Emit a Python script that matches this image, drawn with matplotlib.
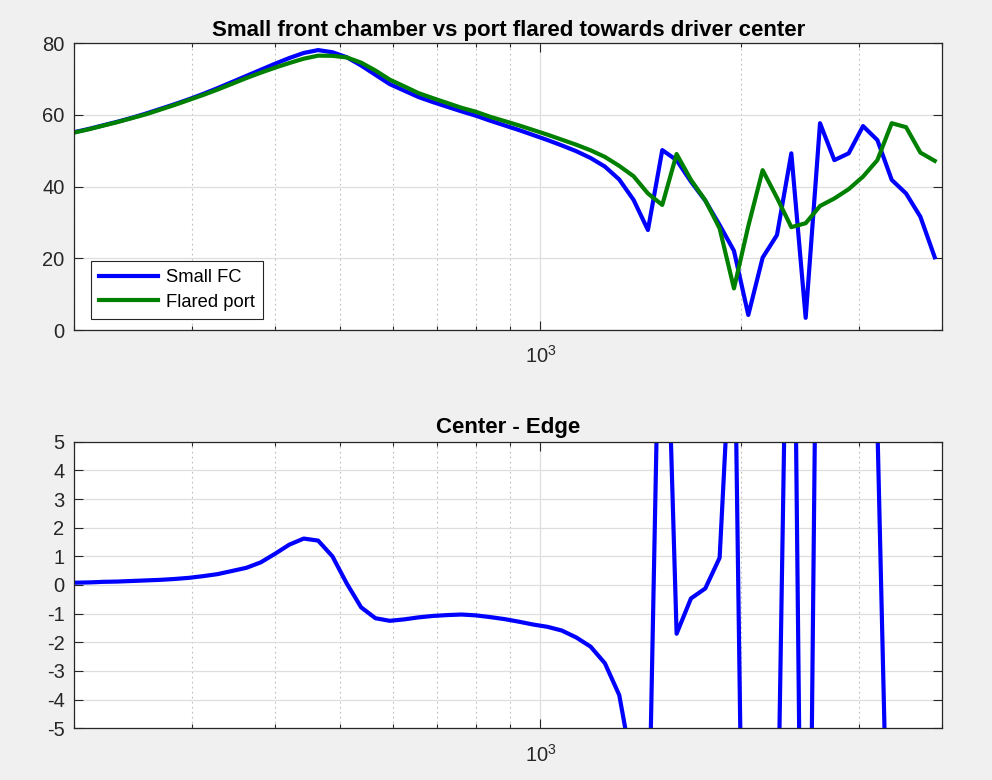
import matplotlib
matplotlib.use("Agg")
import matplotlib.pyplot as plt
from matplotlib.ticker import LogLocator, LogFormatterSciNotation, NullFormatter, MultipleLocator

plt.rcParams['font.family'] = ['Liberation Sans', 'DejaVu Sans']
plt.rcParams['mathtext.fontset'] = 'custom'
plt.rcParams['mathtext.rm'] = 'Liberation Sans'
plt.rcParams['axes.unicode_minus'] = False

# frequency points (Hz)
freq = [200.0, 210.2, 220.8, 232.0, 243.8, 256.2, 269.2, 282.8, 297.2, 312.3,
        328.1, 344.8, 362.3, 380.7, 400.0, 420.3, 441.6, 464.1, 487.6, 512.4,
        538.4, 565.7, 594.4, 624.6, 656.3, 689.6, 724.6, 761.4, 800.0, 840.6,
        883.3, 928.1, 975.2, 1024.7, 1076.7, 1131.4, 1188.8, 1249.1, 1312.5, 1379.2,
        1449.2, 1522.7, 1600.0, 1681.2, 1766.5, 1856.2, 1950.4, 2049.4, 2153.4, 2262.7,
        2377.6, 2498.3, 2625.1, 2758.3, 2898.3, 3045.4, 3200.0, 3362.4, 3533.1, 3712.4,
        3900.8]

small_fc = [55.2, 56.1, 57.1, 58.1, 59.2, 60.4, 61.7, 63.0, 64.4, 65.9,
            67.5, 69.2, 70.9, 72.6, 74.3, 75.9, 77.3, 78.1, 77.5, 76.1,
            73.8, 71.2, 68.6, 66.8, 65.0, 63.6, 62.3, 61.0, 59.8, 58.4,
            57.1, 55.8, 54.4, 53.0, 51.5, 49.9, 48.0, 45.6, 42.0, 36.3,
            27.9, 50.2, 47.4, 41.4, 36.1, 29.3, 22.1, 4.2, 20.2, 26.5,
            49.3, 3.4, 57.7, 47.4, 49.3, 56.9, 53.0, 41.9, 38.1, 31.6,
            20.3]

flared = [55.1, 56.0, 57.0, 58.0, 59.1, 60.2, 61.5, 62.8, 64.2, 65.6,
          67.1, 68.7, 70.3, 71.8, 73.2, 74.5, 75.7, 76.55, 76.5, 76.05,
          74.6, 72.4, 69.85, 68.0, 66.1, 64.7, 63.35, 62.0, 60.9, 59.5,
          58.3, 57.1, 55.8, 54.5, 53.1, 51.7, 50.15, 48.3, 45.8, 42.9,
          38.1, 34.9, 49.1, 41.9, 36.2, 28.35, 11.6, 29.0, 44.6, 36.9,
          28.7, 29.8, 34.6, 36.7, 39.3, 42.8, 47.4, 57.7, 56.6, 49.5,
          47.2]

center_edge = [0.08, 0.09, 0.11, 0.12, 0.14, 0.16, 0.18, 0.21, 0.25, 0.31,
               0.38, 0.49, 0.60, 0.79, 1.09, 1.41, 1.62, 1.55, 1.00, 0.05,
               -0.78, -1.16, -1.25, -1.20, -1.13, -1.08, -1.05, -1.03, -1.06, -1.12,
               -1.19, -1.28, -1.38, -1.46, -1.59, -1.83, -2.15, -2.73, -3.84, -6.6,
               -10.2, 15.3, -1.7, -0.47, -0.12, 0.95, 10.7, -25.0, -24.1, -10.4,
               20.6, -26.4, 23.1, 10.7, 10.0, 14.1, 5.6, -15.8, -18.5, -17.9,
               -26.9]

TXT = '#262626'

fig = plt.figure(figsize=(9.92, 7.80), dpi=100, facecolor='#f0f0f0')
ax1 = fig.add_axes([0.0749, 0.5769, 0.8747, 0.3676])
ax2 = fig.add_axes([0.0749, 0.0663, 0.8747, 0.3674])


def matlab_style(ax):
    ax.set_xscale('log')
    ax.set_xlim(200, 4000)
    ax.set_facecolor('white')
    ax.xaxis.set_major_locator(LogLocator(base=10))
    ax.xaxis.set_major_formatter(LogFormatterSciNotation())
    ax.xaxis.set_minor_locator(LogLocator(base=10, subs=range(2, 10)))
    ax.xaxis.set_minor_formatter(NullFormatter())
    ax.grid(True, which='major', color='#dedede', linestyle='-', linewidth=0.9)
    ax.grid(True, which='minor', axis='x', color='#bdbdbd', linestyle=(0, (1.5, 3)), linewidth=0.8)
    ax.set_axisbelow(True)
    ax.tick_params(which='both', direction='in', top=True, right=True,
                   colors=TXT, labelsize=14.5, width=0.8)
    ax.tick_params(which='major', length=6.2)
    ax.tick_params(axis='y', which='major', pad=7)
    ax.tick_params(axis='x', which='major', pad=11)
    ax.tick_params(which='minor', length=3)
    for s in ax.spines.values():
        s.set_color(TXT)
        s.set_linewidth(0.9)


matlab_style(ax1)
ax1.plot(freq, small_fc, color=(0, 0, 1), linewidth=3, label='Small FC')
ax1.plot(freq, flared, color=(0, 0.5, 0), linewidth=3, label='Flared port')
ax1.set_ylim(0, 80)
ax1.yaxis.set_major_locator(MultipleLocator(20))
ax1.set_title('Small front chamber vs port flared towards driver center',
              fontsize=16, fontweight='bold', color='black', pad=5)
leg = ax1.legend(loc='lower left', bbox_to_anchor=(0.019, 0.038), borderaxespad=0,
                 fontsize=13.2, fancybox=False, edgecolor=TXT, framealpha=1,
                 handlelength=3.2, handletextpad=0.45, labelspacing=0.42,
                 borderpad=0.45)
leg.get_frame().set_linewidth(0.8)

matlab_style(ax2)
ax2.plot(freq, center_edge, color=(0, 0, 1), linewidth=3)
ax2.set_ylim(-5, 5)
ax2.yaxis.set_major_locator(MultipleLocator(1))
ax2.set_title('Center - Edge', fontsize=16, fontweight='bold', color='black', pad=6)

fig.savefig('out.png', dpi=100, facecolor=fig.get_facecolor())
